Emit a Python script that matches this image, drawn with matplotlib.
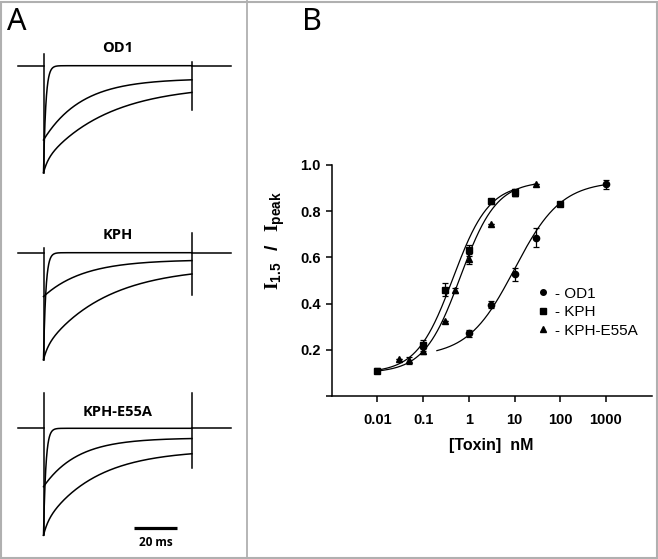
import numpy as np
import matplotlib
matplotlib.use("Agg")
import matplotlib.pyplot as plt
from matplotlib.lines import Line2D
from matplotlib.patches import Rectangle

plt.rcParams['mathtext.fontset'] = 'custom'
plt.rcParams['mathtext.bf'] = 'Liberation Serif:bold'
plt.rcParams['mathtext.sf'] = 'Liberation Sans:bold'

W, H = 658, 559

# ---- panel B data (concentration-response) ----
od1_x = [1, 3, 10, 30, 1000]
od1_y = [0.271, 0.396, 0.526, 0.686, 0.917]
od1_err = [0.015, 0.015, 0.03, 0.04, 0.02]
od1_sq_x = [100]
od1_sq_y = [0.833]

kph_x = [0.01, 0.1, 0.3, 1, 3, 10]
kph_y = [0.11, 0.219, 0.461, 0.63, 0.842, 0.881]
kph_err = [0.01, 0.025, 0.03, 0.025, 0.01, 0.015]

e55a_x = [0.03, 0.05, 0.1, 0.3, 0.5, 1, 3, 10, 30]
e55a_y = [0.161, 0.155, 0.193, 0.323, 0.457, 0.594, 0.743, 0.877, 0.917]
e55a_err = [0.0, 0.015, 0.01, 0.0, 0.012, 0.022, 0.0, 0.01, 0.0]

# Hill fit params: bottom, top, EC50, n, x range
fit_kph = (0.10, 0.92, 0.45, 1.1, 0.01, 10)
fit_e55a = (0.10, 0.93, 0.65, 1.1, 0.01, 30)
fit_od1 = (0.17, 0.93, 10.0, 0.85, 0.2, 1000)

# ---- panel A traces: (steady state, slow amp, slow tau, fast amp, fast tau) in units of peak ----
traces = {
    'OD1': dict(base=65.7, top=40, bot=185,
                fast=(0.0, 0.0, 1.0, 1.0, 1.1), mid=(0.12, 0.574, 18, 0.0, 1.0),
                slow=(0.18, 0.72, 30, 0.10, 2.0),
                on=(-0.109, 1.0), off=(-0.037, 0.413), label_y=48),
    'KPH': dict(base=252.7, top=225, bot=370,
                fast=(0.0, 0.0, 1.0, 1.0, 1.1), mid=(0.065, 0.345, 19, 0.0, 1.0),
                slow=(0.13, 0.77, 29, 0.10, 2.0),
                on=(-0.044, 1.0), off=(-0.181, 0.395), label_y=235),
    'KPH-E55A': dict(base=428.3, top=385, bot=545,
                     fast=(0.0, 0.0, 1.0, 1.0, 1.1), mid=(0.09, 0.456, 16, 0.0, 1.0),
                     slow=(0.2, 0.70, 24, 0.10, 2.0),
                     on=(-0.333, 1.0), off=(-0.327, 0.374), label_y=411.7),
}

MS_PER_PX = 20 / 42.4
ONSET_PX = 43.5
UNIT_PX = 107.0
PULSE_MS = 70


def hill(x, b, t, ec, n):
    return b + (t - b) / (1 + (ec / x) ** n)


fig = plt.figure(figsize=(W / 100, H / 100), dpi=100)

# outer frame and divider
fig.patches.append(Rectangle((0.002, 0.002), 0.996, 0.995, transform=fig.transFigure,
                             fill=False, edgecolor='#b0b0b0', lw=1.5))
fig.add_artist(Line2D([246.5 / W, 246.5 / W], [0, 1], transform=fig.transFigure,
                      color='#b0b0b0', lw=1.3))

fig.text(7 / W, 1 - 22 / H, 'A', fontsize=22, family='Noto Sans', va='center', ha='left')
fig.text(302 / W, 1 - 22 / H, 'B', fontsize=22, family='Noto Sans', va='center', ha='left')

t = np.linspace(0, PULSE_MS, 1200)
for name, p in traces.items():
    ax = fig.add_axes([0, 1 - p['bot'] / H, 246 / W, (p['bot'] - p['top']) / H])
    ax.set_xlim((0 - ONSET_PX) * MS_PER_PX, (246 - ONSET_PX) * MS_PER_PX)
    ax.set_ylim(-(p['bot'] - p['base']) / UNIT_PX, (p['base'] - p['top']) / UNIT_PX)
    ax.axis('off')
    x0 = (18 - ONSET_PX) * MS_PER_PX
    x1 = (231 - ONSET_PX) * MS_PER_PX
    ax.plot([x0, 0], [0, 0], color='black', lw=1.1)
    ax.plot([PULSE_MS, x1], [0, 0], color='black', lw=1.1)
    for key in ('fast', 'mid', 'slow'):
        ss, a_s, tau_s, a_f, tau_f = p[key]
        y = -(ss + a_s * np.exp(-t / tau_s) + a_f * np.exp(-t / tau_f))
        ax.plot(t, y, color='black', lw=1.1)
    ax.plot([0, 0], [-p['on'][0], -p['on'][1]], color='black', lw=1.1)
    ax.plot([PULSE_MS, PULSE_MS], [-p['off'][0], -p['off'][1]], color='black', lw=1.1)
    fig.text(118 / W, 1 - p['label_y'] / H, name, fontsize=10.5, fontweight='bold',
             family='Open Sans', ha='center', va='center')

# scale bar
fig.add_artist(Line2D([134.3 / W, 176.7 / W], [1 - 528.3 / H, 1 - 528.3 / H],
                      transform=fig.transFigure, color='black', lw=2.3, solid_capstyle='butt'))
fig.text(155.5 / W, 1 - 542.7 / H, '20 ms', fontsize=8.5, fontweight='bold',
         family='Open Sans', ha='center', va='center')

# ---- panel B ----
axb = fig.add_axes([331.7 / W, 1 - 396 / H, 320 / W, 231 / H])
axb.set_xscale('log')
axb.set_xlim(0.001, 10000)
axb.set_ylim(0, 1.0)
for s in ('top', 'right'):
    axb.spines[s].set_visible(False)
axb.spines['left'].set_linewidth(1.1)
axb.spines['bottom'].set_linewidth(1.1)
axb.set_xticks([0.01, 0.1, 1, 10, 100, 1000])
axb.set_xticklabels(['0.01', '0.1', '1', '10', '100', '1000'])
axb.xaxis.set_minor_locator(matplotlib.ticker.NullLocator())
axb.set_yticks([0, 0.2, 0.4, 0.6, 0.8, 1.0])
axb.set_yticklabels(['', '0.2', '0.4', '0.6', '0.8', '1.0'])
axb.tick_params(axis='x', direction='out', length=4, width=1.1, pad=8)
axb.tick_params(axis='y', direction='out', length=4, width=1.1, pad=4)
for lab in axb.get_xticklabels() + axb.get_yticklabels():
    lab.set_fontweight('bold')
    lab.set_fontsize(10.5)
    lab.set_family('Liberation Sans')

for fit in (fit_kph, fit_e55a, fit_od1):
    b, tp, ec, n, lo, hi = fit
    xs = np.logspace(np.log10(lo), np.log10(hi), 300)
    axb.plot(xs, hill(xs, b, tp, ec, n), color='black', lw=0.9)

eb = dict(fmt='none', ecolor='black', elinewidth=0.9, capsize=2.5, capthick=0.9)
axb.errorbar(od1_x, od1_y, yerr=od1_err, **eb)
axb.errorbar(kph_x, kph_y, yerr=kph_err, **eb)
axb.errorbar(e55a_x, e55a_y, yerr=e55a_err, **eb)
axb.plot(od1_x, od1_y, 'o', color='black', ms=4.5)
axb.plot(od1_sq_x, od1_sq_y, 's', color='black', ms=4.2)
axb.plot(kph_x, kph_y, 's', color='black', ms=4.2)
axb.plot(e55a_x, e55a_y, '^', color='black', ms=4.2)

axb.set_xlabel('[Toxin]  nM', fontsize=11.5, fontweight='bold', family='Liberation Sans',
               labelpad=8)
fig.text(275 / W, 1 - 241 / H,
         r'$\mathbf{I}_{\mathsf{1.5}}\ \ \mathsf{/}\ \ \mathbf{I}_{\mathsf{peak}}$',
         fontsize=14, rotation=90, ha='center', va='center')

handles = [Line2D([], [], ls='none', marker=m, color='black', ms=4) for m in ('o', 's', '^')]
axb.legend(handles, ['- OD1', '- KPH', '- KPH-E55A'], loc='upper left',
           bbox_to_anchor=(199 / 320, (396 - 279) / 231), frameon=False,
           handlelength=0.6, handletextpad=0.5, labelspacing=0.3, borderpad=0,
           prop={'family': 'Liberation Sans', 'size': 11})

fig.savefig('out.png', dpi=100)
